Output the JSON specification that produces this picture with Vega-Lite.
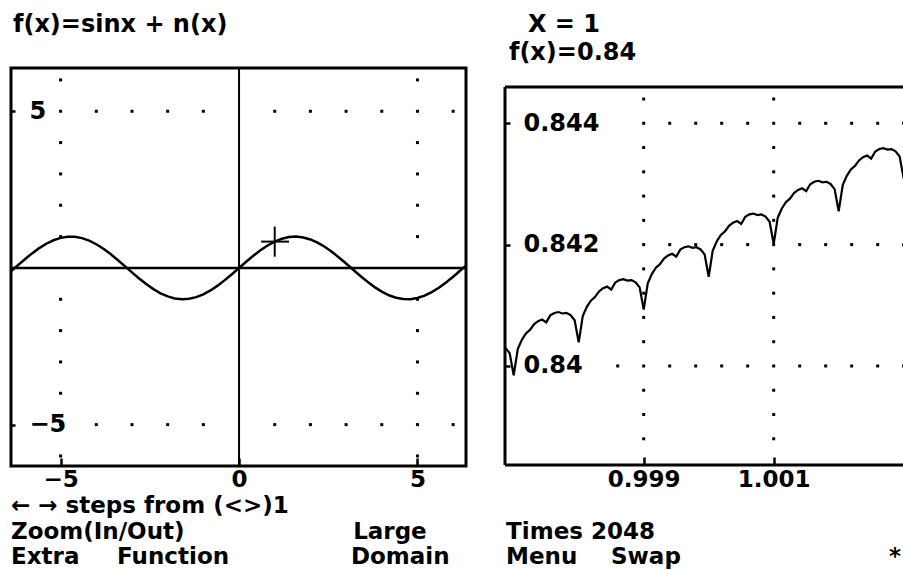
{
  "$schema": "https://vega.github.io/schema/vega-lite/v6.json",
  "background": "white",
  "padding": {"left": 8, "top": 0, "right": 0, "bottom": 0},
  "bounds": "flush",
  "columns": 2,
  "spacing": {"row": 4, "column": 39},
  "config": {
    "view": {"stroke": null},
    "axis": {"labelFont": "DejaVu Sans", "labelFontWeight": "bold", "labelFontSize": 24, "labelColor": "black", "tickColor": "black", "tickWidth": 2.5, "domain": false, "grid": false, "labelFlush": false, "labelOverlap": false},
    "text": {"font": "DejaVu Sans", "fontWeight": "bold", "fontSize": 24, "color": "black"}
  },
  "datasets": {
    "topLeftText": [
      {"t": "f(x)=sinx + n(x)", "col": 0.09, "line": 1}
    ],
    "topRightText": [
      {"t": "X = 1", "col": 1.045, "line": 1},
      {"t": "f(x)=0.84", "col": 0.18, "line": 2}
    ],
    "bottomLeftText": [
      {"t": "← → steps from (<>)1", "col": 0, "line": 1},
      {"t": "Zoom(In/Out)", "col": 0, "line": 2},
      {"t": "Large", "col": 15.55, "line": 2},
      {"t": "Extra", "col": 0, "line": 3},
      {"t": "Function", "col": 4.82, "line": 3},
      {"t": "Domain", "col": 15.45, "line": 3}
    ],
    "bottomRightText": [
      {"t": "Times 2048", "col": 0.05, "line": 2},
      {"t": "Menu", "col": 0.05, "line": 3},
      {"t": "Swap", "col": 4.82, "line": 3},
      {"t": "*", "col": 17.45, "line": 3}
    ],
    "leftDots": [
      {"x": -5, "y": -6}, {"x": -5, "y": -5}, {"x": -5, "y": -4}, {"x": -5, "y": -3}, {"x": -5, "y": -2}, {"x": -5, "y": -1},
      {"x": -5, "y": 1}, {"x": -5, "y": 2}, {"x": -5, "y": 3}, {"x": -5, "y": 4}, {"x": -5, "y": 5}, {"x": -5, "y": 6},
      {"x": 5, "y": -6}, {"x": 5, "y": -5}, {"x": 5, "y": -4}, {"x": 5, "y": -3}, {"x": 5, "y": -2}, {"x": 5, "y": -1},
      {"x": 5, "y": 1}, {"x": 5, "y": 2}, {"x": 5, "y": 3}, {"x": 5, "y": 4}, {"x": 5, "y": 5}, {"x": 5, "y": 6},
      {"x": -4, "y": 5}, {"x": -3, "y": 5}, {"x": -2, "y": 5}, {"x": -1, "y": 5}, {"x": 1, "y": 5}, {"x": 2, "y": 5}, {"x": 3, "y": 5}, {"x": 4, "y": 5}, {"x": 6, "y": 5},
      {"x": -4, "y": -5}, {"x": -3, "y": -5}, {"x": -2, "y": -5}, {"x": -1, "y": -5}, {"x": 1, "y": -5}, {"x": 2, "y": -5}, {"x": 3, "y": -5}, {"x": 4, "y": -5}, {"x": 6, "y": -5}
    ],
    "leftCurve": [
      {"x": -6.4, "y": -0.1165}, {"x": -6.2, "y": 0.0831}, {"x": -6.0, "y": 0.2794}, {"x": -5.8, "y": 0.4646}, {"x": -5.6, "y": 0.6313},
      {"x": -5.4, "y": 0.7728}, {"x": -5.2, "y": 0.8835}, {"x": -5.0, "y": 0.9589}, {"x": -4.8, "y": 0.9962}, {"x": -4.6, "y": 0.9937},
      {"x": -4.4, "y": 0.9516}, {"x": -4.2, "y": 0.8716}, {"x": -4.0, "y": 0.7568}, {"x": -3.8, "y": 0.6119}, {"x": -3.6, "y": 0.4425},
      {"x": -3.4, "y": 0.2555}, {"x": -3.2, "y": 0.0584}, {"x": -3.0, "y": -0.1411}, {"x": -2.8, "y": -0.335}, {"x": -2.6, "y": -0.5155},
      {"x": -2.4, "y": -0.6755}, {"x": -2.2, "y": -0.8085}, {"x": -2.0, "y": -0.9093}, {"x": -1.8, "y": -0.9738}, {"x": -1.6, "y": -0.9996},
      {"x": -1.4, "y": -0.9854}, {"x": -1.2, "y": -0.932}, {"x": -1.0, "y": -0.8415}, {"x": -0.8, "y": -0.7174}, {"x": -0.6, "y": -0.5646},
      {"x": -0.4, "y": -0.3894}, {"x": -0.2, "y": -0.1987}, {"x": 0, "y": 0},
      {"x": 0.2, "y": 0.1987}, {"x": 0.4, "y": 0.3894}, {"x": 0.6, "y": 0.5646}, {"x": 0.8, "y": 0.7174}, {"x": 1.0, "y": 0.8415},
      {"x": 1.2, "y": 0.932}, {"x": 1.4, "y": 0.9854}, {"x": 1.6, "y": 0.9996}, {"x": 1.8, "y": 0.9738}, {"x": 2.0, "y": 0.9093},
      {"x": 2.2, "y": 0.8085}, {"x": 2.4, "y": 0.6755}, {"x": 2.6, "y": 0.5155}, {"x": 2.8, "y": 0.335}, {"x": 3.0, "y": 0.1411},
      {"x": 3.2, "y": -0.0584}, {"x": 3.4, "y": -0.2555}, {"x": 3.6, "y": -0.4425}, {"x": 3.8, "y": -0.6119}, {"x": 4.0, "y": -0.7568},
      {"x": 4.2, "y": -0.8716}, {"x": 4.4, "y": -0.9516}, {"x": 4.6, "y": -0.9937}, {"x": 4.8, "y": -0.9962}, {"x": 5.0, "y": -0.9589},
      {"x": 5.2, "y": -0.8835}, {"x": 5.4, "y": -0.7728}, {"x": 5.6, "y": -0.6313}, {"x": 5.8, "y": -0.4646}, {"x": 6.0, "y": -0.2794},
      {"x": 6.2, "y": -0.0831}, {"x": 6.4, "y": 0.1165}
    ],
    "cross": [
      {"x": 1, "x2": 1, "y": 0.36, "y2": 1.32},
      {"x": 0.62, "x2": 1.4, "y": 0.84, "y2": 0.84}
    ],
    "rightDots": [
      {"x": 0.999, "y": 0.8388}, {"x": 0.999, "y": 0.8392}, {"x": 0.999, "y": 0.8396}, {"x": 0.999, "y": 0.84}, {"x": 0.999, "y": 0.8404},
      {"x": 0.999, "y": 0.8408}, {"x": 0.999, "y": 0.8412}, {"x": 0.999, "y": 0.8416}, {"x": 0.999, "y": 0.842}, {"x": 0.999, "y": 0.8424},
      {"x": 0.999, "y": 0.8428}, {"x": 0.999, "y": 0.8432}, {"x": 0.999, "y": 0.8436}, {"x": 0.999, "y": 0.844}, {"x": 0.999, "y": 0.8444},
      {"x": 1.001, "y": 0.8388}, {"x": 1.001, "y": 0.8392}, {"x": 1.001, "y": 0.8396}, {"x": 1.001, "y": 0.84}, {"x": 1.001, "y": 0.8404},
      {"x": 1.001, "y": 0.8408}, {"x": 1.001, "y": 0.8412}, {"x": 1.001, "y": 0.8416}, {"x": 1.001, "y": 0.842}, {"x": 1.001, "y": 0.8424},
      {"x": 1.001, "y": 0.8428}, {"x": 1.001, "y": 0.8432}, {"x": 1.001, "y": 0.8436}, {"x": 1.001, "y": 0.844}, {"x": 1.001, "y": 0.8444},
      {"x": 0.9986, "y": 0.84},
      {"x": 0.9994, "y": 0.84}, {"x": 0.9998, "y": 0.84}, {"x": 1.0002, "y": 0.84}, {"x": 1.0006, "y": 0.84}, {"x": 1.0014, "y": 0.84},
      {"x": 1.0018, "y": 0.84}, {"x": 1.0022, "y": 0.84}, {"x": 1.0026, "y": 0.84}, {"x": 1.003, "y": 0.84},
      {"x": 0.9994, "y": 0.842}, {"x": 0.9998, "y": 0.842}, {"x": 1.0002, "y": 0.842}, {"x": 1.0006, "y": 0.842}, {"x": 1.0014, "y": 0.842},
      {"x": 1.0018, "y": 0.842}, {"x": 1.0022, "y": 0.842}, {"x": 1.0026, "y": 0.842}, {"x": 1.003, "y": 0.842},
      {"x": 0.9994, "y": 0.844}, {"x": 0.9998, "y": 0.844}, {"x": 1.0002, "y": 0.844}, {"x": 1.0006, "y": 0.844}, {"x": 1.0014, "y": 0.844},
      {"x": 1.0018, "y": 0.844}, {"x": 1.0022, "y": 0.844}, {"x": 1.0026, "y": 0.844}, {"x": 1.003, "y": 0.844}
    ],
    "rightFrameH": [{"y": 0.844598}, {"y": 0.838368}],
    "rightFrameV": [{"x": 0.996866, "y": 0.838368, "y2": 0.844598}],
    "rightCurve": [
      {"x": 0.9968125, "y": 0.840332}, {"x": 0.996875, "y": 0.840296}, {"x": 0.9969375, "y": 0.840212}, {"x": 0.997, "y": 0.839846},
      {"x": 0.9970625, "y": 0.840279}, {"x": 0.997125, "y": 0.840431}, {"x": 0.9971875, "y": 0.840535}, {"x": 0.99725, "y": 0.840594},
      {"x": 0.9973125, "y": 0.840686}, {"x": 0.997375, "y": 0.840739}, {"x": 0.9974375, "y": 0.840766}, {"x": 0.9975, "y": 0.840718},
      {"x": 0.9975625, "y": 0.840834}, {"x": 0.997625, "y": 0.840874}, {"x": 0.9976875, "y": 0.840889}, {"x": 0.99775, "y": 0.840865},
      {"x": 0.9978125, "y": 0.840874}, {"x": 0.997875, "y": 0.840838}, {"x": 0.9979375, "y": 0.840754}, {"x": 0.998, "y": 0.840389},
      {"x": 0.9980625, "y": 0.840822}, {"x": 0.998125, "y": 0.840974}, {"x": 0.9981875, "y": 0.841077}, {"x": 0.99825, "y": 0.841136},
      {"x": 0.9983125, "y": 0.841228}, {"x": 0.998375, "y": 0.841281}, {"x": 0.9984375, "y": 0.841308}, {"x": 0.9985, "y": 0.84126},
      {"x": 0.9985625, "y": 0.841376}, {"x": 0.998625, "y": 0.841416}, {"x": 0.9986875, "y": 0.841431}, {"x": 0.99875, "y": 0.841407},
      {"x": 0.9988125, "y": 0.841416}, {"x": 0.998875, "y": 0.84138}, {"x": 0.9989375, "y": 0.841295}, {"x": 0.999, "y": 0.84093},
      {"x": 0.9990625, "y": 0.841363}, {"x": 0.999125, "y": 0.841515}, {"x": 0.9991875, "y": 0.841619}, {"x": 0.99925, "y": 0.841678},
      {"x": 0.9993125, "y": 0.841769}, {"x": 0.999375, "y": 0.841822}, {"x": 0.9994375, "y": 0.841849}, {"x": 0.9995, "y": 0.841801},
      {"x": 0.9995625, "y": 0.841917}, {"x": 0.999625, "y": 0.841957}, {"x": 0.9996875, "y": 0.841972}, {"x": 0.99975, "y": 0.841948},
      {"x": 0.9998125, "y": 0.841957}, {"x": 0.999875, "y": 0.841921}, {"x": 0.9999375, "y": 0.841836}, {"x": 1.0, "y": 0.841471},
      {"x": 1.0000625, "y": 0.841904}, {"x": 1.000125, "y": 0.842056}, {"x": 1.0001875, "y": 0.842159}, {"x": 1.00025, "y": 0.842218},
      {"x": 1.0003125, "y": 0.84231}, {"x": 1.000375, "y": 0.842363}, {"x": 1.0004375, "y": 0.842389}, {"x": 1.0005, "y": 0.842341},
      {"x": 1.0005625, "y": 0.842457}, {"x": 1.000625, "y": 0.842498}, {"x": 1.0006875, "y": 0.842512}, {"x": 1.00075, "y": 0.842488},
      {"x": 1.0008125, "y": 0.842497}, {"x": 1.000875, "y": 0.842461}, {"x": 1.0009375, "y": 0.842376}, {"x": 1.001, "y": 0.842011},
      {"x": 1.0010625, "y": 0.842444}, {"x": 1.001125, "y": 0.842595}, {"x": 1.0011875, "y": 0.842699}, {"x": 1.00125, "y": 0.842758},
      {"x": 1.0013125, "y": 0.84285}, {"x": 1.001375, "y": 0.842902}, {"x": 1.0014375, "y": 0.842929}, {"x": 1.0015, "y": 0.842881},
      {"x": 1.0015625, "y": 0.842996}, {"x": 1.001625, "y": 0.843037}, {"x": 1.0016875, "y": 0.843052}, {"x": 1.00175, "y": 0.843027},
      {"x": 1.0018125, "y": 0.843036}, {"x": 1.001875, "y": 0.843}, {"x": 1.0019375, "y": 0.842915}, {"x": 1.002, "y": 0.84255},
      {"x": 1.0020625, "y": 0.842983}, {"x": 1.002125, "y": 0.843134}, {"x": 1.0021875, "y": 0.843238}, {"x": 1.00225, "y": 0.843297},
      {"x": 1.0023125, "y": 0.843388}, {"x": 1.002375, "y": 0.843441}, {"x": 1.0024375, "y": 0.843468}, {"x": 1.0025, "y": 0.843419},
      {"x": 1.0025625, "y": 0.843535}, {"x": 1.002625, "y": 0.843576}, {"x": 1.0026875, "y": 0.84359}, {"x": 1.00275, "y": 0.843566},
      {"x": 1.0028125, "y": 0.843575}, {"x": 1.002875, "y": 0.843538}, {"x": 1.0029375, "y": 0.843454}, {"x": 1.003, "y": 0.843088},
      {"x": 1.0030625, "y": 0.843521}
    ]
  },
  "concat": [
    {
      "width": 455,
      "height": 64,
      "data": {"name": "topLeftText"},
      "mark": {"type": "text", "align": "left", "baseline": "alphabetic"},
      "encoding": {
        "x": {"field": "col", "type": "quantitative", "scale": {"domain": [0, 20.68], "nice": false, "zero": false}, "axis": null},
        "y": {"field": "line", "type": "quantitative", "scale": {"domain": [-0.1818, 2.1455], "nice": false, "zero": false, "reverse": true}, "axis": null},
        "text": {"field": "t"}
      }
    },
    {
      "width": 399,
      "height": 64,
      "data": {"name": "topRightText"},
      "mark": {"type": "text", "align": "left", "baseline": "alphabetic"},
      "encoding": {
        "x": {"field": "col", "type": "quantitative", "scale": {"domain": [0, 18.136], "nice": false, "zero": false}, "axis": null},
        "y": {"field": "line", "type": "quantitative", "scale": {"domain": [-0.1818, 2.1455], "nice": false, "zero": false, "reverse": true}, "axis": null},
        "text": {"field": "t"}
      }
    },
    {
      "width": 455,
      "height": 398,
      "view": {"stroke": "black", "strokeWidth": 3},
      "layer": [
        {
          "data": {"name": "leftDots"},
          "mark": {"type": "point", "shape": "square", "filled": true, "size": 9, "color": "black", "opacity": 1},
          "encoding": {
            "x": {"field": "x", "type": "quantitative", "scale": {"domain": [-6.39, 6.36], "nice": false, "zero": false},
                  "axis": {"values": [-5, 0, 5], "format": "d", "tickSize": -8, "labelPadding": 10, "labelFontSize": 23, "title": null}},
            "y": {"field": "y", "type": "quantitative", "scale": {"domain": [-6.32, 6.38], "nice": false, "zero": false},
                  "axis": {"values": [-5, 5], "format": "d", "tickSize": -4, "labelPadding": -14, "labelAlign": "left", "labelBaseline": "middle", "title": null}}
          }
        },
        {
          "data": {"values": [{"x": 0}]},
          "mark": {"type": "rule", "color": "black", "strokeWidth": 2},
          "encoding": {"x": {"field": "x", "type": "quantitative"}}
        },
        {
          "data": {"values": [{"y": 0}]},
          "mark": {"type": "rule", "color": "black", "strokeWidth": 2.5},
          "encoding": {"y": {"field": "y", "type": "quantitative"}}
        },
        {
          "data": {"name": "leftCurve"},
          "mark": {"type": "line", "color": "black", "strokeWidth": 2.5, "clip": true},
          "encoding": {
            "x": {"field": "x", "type": "quantitative"},
            "y": {"field": "y", "type": "quantitative"}
          }
        },
        {
          "data": {"name": "cross"},
          "mark": {"type": "rule", "color": "black", "strokeWidth": 2},
          "encoding": {
            "x": {"field": "x", "type": "quantitative"},
            "x2": {"field": "x2"},
            "y": {"field": "y", "type": "quantitative"},
            "y2": {"field": "y2"}
          }
        }
      ]
    },
    {
      "width": 399,
      "height": 397,
      "layer": [
        {
          "data": {"name": "rightDots"},
          "mark": {"type": "point", "shape": "square", "filled": true, "size": 9, "color": "black", "opacity": 1},
          "encoding": {
            "x": {"field": "x", "type": "quantitative", "scale": {"domain": [0.996866, 1.003005], "nice": false, "zero": false},
                  "axis": {"values": [0.999, 1.001], "format": ".3f", "tickSize": -8, "labelPadding": 11, "labelFontSize": 23, "title": null}},
            "y": {"field": "y", "type": "quantitative", "scale": {"domain": [0.838368, 0.844911], "nice": false, "zero": false},
                  "axis": {"values": [0.84, 0.842, 0.844], "format": "~g", "tickSize": -5, "labelPadding": -13, "labelAlign": "left", "labelBaseline": "middle", "title": null}}
          }
        },
        {
          "data": {"name": "rightFrameH"},
          "mark": {"type": "rule", "color": "black", "strokeWidth": 3},
          "encoding": {"y": {"field": "y", "type": "quantitative"}}
        },
        {
          "data": {"name": "rightFrameV"},
          "mark": {"type": "rule", "color": "black", "strokeWidth": 3},
          "encoding": {
            "x": {"field": "x", "type": "quantitative"},
            "y": {"field": "y", "type": "quantitative"},
            "y2": {"field": "y2"}
          }
        },
        {
          "data": {"name": "rightCurve"},
          "mark": {"type": "line", "color": "black", "strokeWidth": 2.2, "clip": true},
          "encoding": {
            "x": {"field": "x", "type": "quantitative"},
            "y": {"field": "y", "type": "quantitative"}
          }
        }
      ]
    },
    {
      "width": 455,
      "height": 100,
      "data": {"name": "bottomLeftText"},
      "mark": {"type": "text", "align": "left", "baseline": "alphabetic", "fontSize": 23},
      "encoding": {
        "x": {"field": "col", "type": "quantitative", "scale": {"domain": [0, 20.68], "nice": false, "zero": false}, "axis": null},
        "y": {"field": "line", "type": "quantitative", "scale": {"domain": [-0.6863, 3.2353], "nice": false, "zero": false, "reverse": true}, "axis": null},
        "text": {"field": "t"}
      }
    },
    {
      "width": 399,
      "height": 100,
      "data": {"name": "bottomRightText"},
      "mark": {"type": "text", "align": "left", "baseline": "alphabetic", "fontSize": 23},
      "encoding": {
        "x": {"field": "col", "type": "quantitative", "scale": {"domain": [0, 18.136], "nice": false, "zero": false}, "axis": null},
        "y": {"field": "line", "type": "quantitative", "scale": {"domain": [-0.6863, 3.2353], "nice": false, "zero": false, "reverse": true}, "axis": null},
        "text": {"field": "t"}
      }
    }
  ]
}
